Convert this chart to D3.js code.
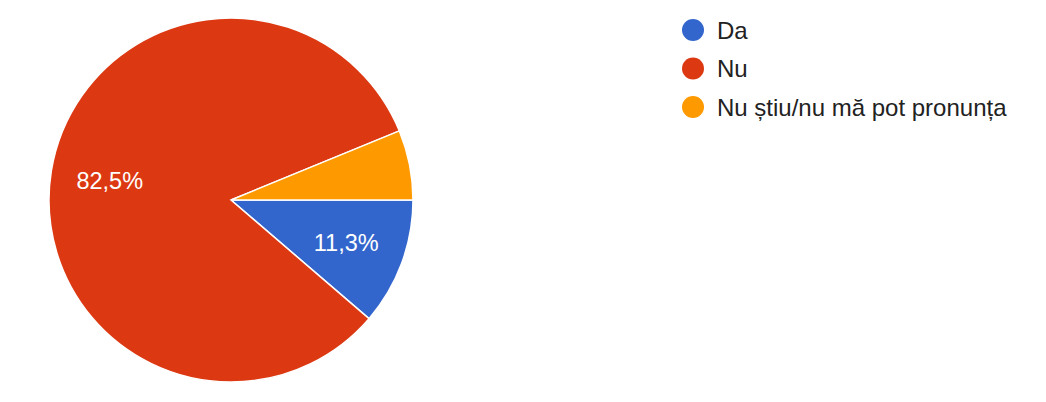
<!DOCTYPE html>
<html lang="ro">
<head>
  <meta charset="UTF-8"/>
  <title>Pie</title>
  <style>
    body { margin: 0; background: #fff; }
    svg { display: block; font-family: Arial, "Liberation Sans", sans-serif; }
  </style>
</head>
<body>
<svg id="chart" width="1046" height="402"></svg>
<script src="https://cdn.jsdelivr.net/npm/d3@7"></script>
<script>
// data
var labels  = ["Da", "Nu", "Nu știu/nu mă pot pronunța"];
var values  = [11.3, 82.5, 6.2];
var colors  = ["#3366cc", "#dc3912", "#ff9900"];
var texts   = ["11,3%", "82,5%", ""];

var svg = d3.select("#chart");
var cx = 231, cy = 200, r = 182;

var pie = d3.pie().sort(null)
    .startAngle(Math.PI/2).endAngle(Math.PI/2 + 2*Math.PI)
    .value(function(d) { return d; });
var arcs = pie(values);

var arc = d3.arc().innerRadius(0).outerRadius(r);
var labelArc = d3.arc().innerRadius(r*0.675).outerRadius(r*0.675);

var g = svg.append("g").attr("transform", "translate(" + cx + "," + cy + ")");

g.selectAll("path")
  .data(arcs)
  .enter().append("path")
    .attr("d", arc)
    .attr("fill", function(d, i) { return colors[i]; })
    .attr("stroke", "#fff")
    .attr("stroke-width", 1.5);

g.selectAll("text")
  .data(arcs)
  .enter().append("text")
    .attr("transform", function(d) { return "translate(" + labelArc.centroid(d) + ")"; })
    .attr("text-anchor", "middle")
    .attr("dy", "0.36em")
    .attr("fill", "#fff")
    .attr("font-size", 23.5)
    .text(function(d, i) { return texts[i]; });

// legend
var legend = svg.append("g").attr("transform", "translate(693,30)");
var rows = legend.selectAll("g")
  .data(labels)
  .enter().append("g")
    .attr("transform", function(d, i) { return "translate(0," + (i*38.5) + ")"; });
rows.append("circle")
    .attr("r", 11)
    .attr("fill", function(d, i) { return colors[i]; });
rows.append("text")
    .attr("x", 24)
    .attr("dy", "0.36em")
    .attr("font-size", 24)
    .attr("fill", "#222")
    .text(function(d) { return d; });
</script>
</body>
</html>
